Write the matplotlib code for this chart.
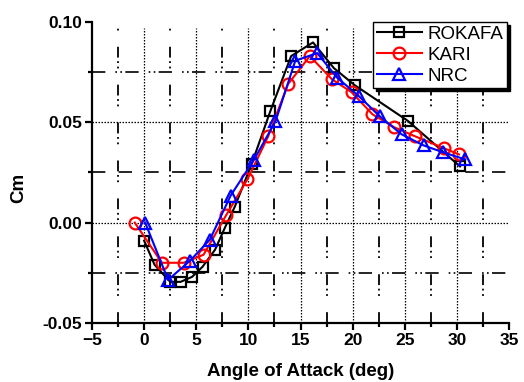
import matplotlib
matplotlib.use("Agg")
import matplotlib.pyplot as plt
from matplotlib.ticker import MultipleLocator

# --------------------------------------------------------
# Data
# --------------------------------------------------------
rokafa_aoa = [0, 1, 2.5, 3.5, 4.6, 5.6, 6.8, 7.75, 8.7, 10.3, 12.1, 14.1, 16.2, 18.2, 20.2, 25.3, 30.3]
rokafa_cm = [-0.009, -0.021, -0.0295, -0.0295, -0.027, -0.022, -0.0135, -0.0025, 0.008,
             0.029, 0.0555, 0.083, 0.0898, 0.077, 0.0685, 0.0507, 0.028]

kari_aoa = [-0.9, 1.7, 3.8, 5.7, 7.9, 9.9, 11.9, 13.8, 15.9, 18.0, 19.9, 21.9, 24.0, 26.0, 28.8, 30.2]
kari_cm = [0.0, -0.020, -0.020, -0.016, 0.004, 0.0215, 0.043, 0.069, 0.083, 0.0715,
           0.065, 0.054, 0.0475, 0.043, 0.037, 0.034]

nrc_aoa = [0.1, 2.3, 4.4, 6.3, 8.3, 10.5, 12.6, 14.5, 16.6, 18.5, 20.6, 22.6, 24.7, 26.8, 28.7, 30.8]
nrc_cm = [0.0, -0.0285, -0.019, -0.0085, 0.0135, 0.031, 0.0505, 0.0807, 0.0845, 0.0723,
          0.063, 0.053, 0.044, 0.0385, 0.035, 0.0315]

x_ticks = [-5, 0, 5, 10, 15, 20, 25, 30, 35]
y_ticks = [-0.05, 0.00, 0.05, 0.10]

plt.rcParams['font.family'] = ['Liberation Sans', 'DejaVu Sans']

fig = plt.figure(figsize=(5.24, 3.82), dpi=100)
ax = fig.add_axes([0.1756, 0.1545, 0.7958, 0.788])

# --------------------------------------------------------
# Grid (mixed dash styles like the original)
# --------------------------------------------------------
for xv in [-2.5 + 2.5 * k for k in range(15)]:
    if xv % 5 == 0:
        ls = (0, (1.2, 1.2))
        lw = 0.9
    else:
        ls = (0, (6, 9, 1, 2, 1, 2))
        lw = 1.3
    ax.axvline(xv, ymax=0.98, color='black', ls=ls, lw=lw, zorder=1)

for yv, ls, lw in [(0.075, (0, (8, 6, 1, 2, 1, 2)), 1.2),
                   (0.05, (0, (1.2, 1.2)), 0.9),
                   (0.025, (0, (8, 8)), 1.2),
                   (0.0, (0, (1.2, 1.2)), 0.9),
                   (-0.025, (0, (8, 6, 1, 2, 1, 2)), 1.2)]:
    ax.axhline(yv, color='black', ls=ls, lw=lw, zorder=1)

# --------------------------------------------------------
# Series
# --------------------------------------------------------
ax.plot(rokafa_aoa, rokafa_cm, color='black', marker='s', ms=7.5, mfc='none',
        mec='black', mew=1.6, lw=1.5, label='ROKAFA', zorder=3)
ax.plot(kari_aoa, kari_cm, color='red', marker='o', ms=8.5, mfc='none',
        mec='red', mew=1.6, lw=1.5, label='KARI', zorder=4)
ax.plot(nrc_aoa, nrc_cm, color='blue', marker='^', ms=9, mfc='none',
        mec='blue', mew=1.6, lw=1.5, label='NRC', zorder=5)

# --------------------------------------------------------
# Axes
# --------------------------------------------------------
ax.set_xlim(-5, 35)
ax.set_ylim(-0.05, 0.10)
ax.set_xticks(x_ticks)
ax.set_yticks(y_ticks)
ax.set_yticklabels(['%.2f' % v for v in y_ticks])
ax.xaxis.set_minor_locator(MultipleLocator(2.5))
ax.yaxis.set_minor_locator(MultipleLocator(0.025))

for side in ['top', 'right']:
    ax.spines[side].set_visible(False)
for side in ['left', 'bottom']:
    ax.spines[side].set_linewidth(1.6)

ax.tick_params(which='major', direction='out', length=5, width=1.6,
               labelsize=12.5, pad=2)
ax.tick_params(which='minor', direction='out', length=3, width=1.6)
for lbl in ax.get_xticklabels() + ax.get_yticklabels():
    lbl.set_fontweight('bold')

ax.set_xlabel('Angle of Attack (deg)', fontsize=13.5, fontweight='bold', labelpad=11)
ax.set_ylabel('Cm', fontsize=13.5, fontweight='bold')
ax.yaxis.set_label_coords(-0.155, 0.45)

leg = ax.legend(loc='upper right', bbox_to_anchor=(0.995, 1.0), fontsize=13.5,
                frameon=True, fancybox=False,
                shadow={'ox': 2, 'oy': -2, 'facecolor': 'black',
                        'edgecolor': 'black', 'alpha': 1},
                borderpad=0.2, handlelength=2.4, handletextpad=0.3,
                labelspacing=0.2, borderaxespad=0.0)
leg.get_frame().set_edgecolor('black')
leg.get_frame().set_linewidth(1.0)
leg.set_zorder(10)

fig.savefig('out.png', dpi=100)
